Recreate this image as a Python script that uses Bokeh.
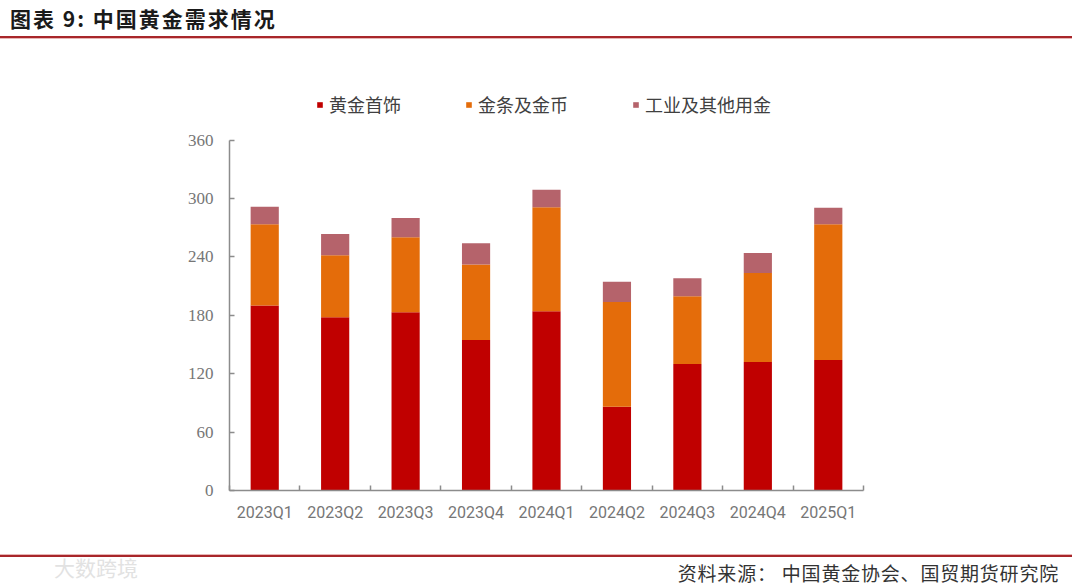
from bokeh.plotting import figure
from bokeh.models import (Range1d, LinearAxis, FixedTicker, ColumnDataSource, Div, Column)
from bokeh.embed import file_html
from bokeh.resources import INLINE

# ---- data ----
quarters = ["2023Q1", "2023Q2", "2023Q3", "2023Q4", "2024Q1", "2024Q2", "2024Q3", "2024Q4", "2025Q1"]
jewelry = [190, 178, 183, 154.5, 184, 86, 130, 132, 134]
bars_coins = [83.5, 63.5, 77, 77.5, 107, 107.5, 69.5, 91.5, 139.5]
industrial = [18, 22, 20, 22, 18, 21, 18.5, 20.5, 17]
series_names = ["黄金首饰", "金条及金币", "工业及其他用金"]
colors = ["#C00000", "#E46C0A", "#B5636B"]
y_ticks = [0, 60, 120, 180, 240, 300, 360]
title_text = "图表 9: 中国黄金需求情况"
source_text = "资料来源：&nbsp;中国黄金协会、国贸期货研究院"
watermark_text = "大数跨境"

n = len(quarters)
centers = [i + 0.5 for i in range(n)]  # slot centres on a 0..n axis
source = ColumnDataSource(data={
    "pos": centers,
    "quarter": quarters,
    series_names[0]: jewelry,
    series_names[1]: bars_coins,
    series_names[2]: industrial,
})

# ---- layout (page pixels) ----
PAGE_W = 1080
TOP_H = 40            # title strip
FIG_H = 505           # figure strip
BOT_H = 41            # source strip
FRAME_L, FRAME_R = 229, 863
FRAME_TOP_PAGE, FRAME_BOT_PAGE = 40, 490
PX_360 = 350.5        # pixels spanned by 0..360
frame_h = FRAME_BOT_PAGE - FRAME_TOP_PAGE
y_end = 360 * frame_h / PX_360

p = figure(width=PAGE_W, height=FIG_H, x_range=Range1d(0, n), y_range=Range1d(0, y_end),
           output_backend="svg", toolbar_location=None,
           x_axis_location=None, y_axis_location=None,
           min_border_left=FRAME_L, min_border_right=PAGE_W - FRAME_R,
           min_border_top=FRAME_TOP_PAGE - TOP_H,
           min_border_bottom=TOP_H + FIG_H - FRAME_BOT_PAGE)
p.outline_line_color = None
p.xgrid.visible = False
p.ygrid.visible = False
p.background_fill_color = "white"
p.border_fill_color = "white"
p.margin = (0, 0, 0, 0)

p.vbar_stack(series_names, x="pos", width=0.4, color=colors, line_color=None,
             source=source, legend_label=series_names)

axis_color = "#8c8c8c"
label_color = "#767676"

# y axis
yaxis = LinearAxis(ticker=FixedTicker(ticks=y_ticks), bounds=(0, 360))
yaxis.axis_line_color = axis_color
yaxis.axis_line_width = 1.5
yaxis.major_tick_line_color = axis_color
yaxis.major_tick_line_width = 1.5
yaxis.major_tick_in = 5
yaxis.major_tick_out = 0
yaxis.minor_tick_line_color = None
yaxis.major_label_text_font = "Liberation Serif"
yaxis.major_label_text_font_size = "17px"
yaxis.major_label_text_color = label_color
yaxis.major_label_standoff = 16
p.add_layout(yaxis, "left")

# x axis: labels at slot centres, small ticks at slot boundaries
xaxis = LinearAxis(ticker=FixedTicker(ticks=centers, minor_ticks=list(range(n + 1))))
xaxis.major_label_overrides = {c: q for c, q in zip(centers, quarters)}
xaxis.axis_line_color = axis_color
xaxis.axis_line_width = 1.5
xaxis.major_tick_line_color = None
xaxis.major_tick_in = 0
xaxis.major_tick_out = 0
xaxis.minor_tick_line_color = axis_color
xaxis.minor_tick_line_width = 1.5
xaxis.minor_tick_in = 5
xaxis.minor_tick_out = 0
xaxis.major_label_text_font = "Roboto"
xaxis.major_label_text_font_size = "16px"
xaxis.major_label_text_color = label_color
xaxis.major_label_standoff = 12
p.add_layout(xaxis, "below")

# legend (inside the upper, empty part of the frame)
lg = p.legend[0]
lg.location = (316 - FRAME_L, FRAME_BOT_PAGE - 117)
lg.orientation = "horizontal"
lg.spacing = 64
lg.glyph_width = 7
lg.glyph_height = 7
lg.label_standoff = 6
lg.padding = 0
lg.margin = 0
lg.border_line_color = None
lg.background_fill_alpha = 0
lg.label_text_font = "Noto Sans CJK SC"
lg.label_text_font_size = "18px"
lg.label_text_color = "#404040"

RED = "#A8262A"

top_div = Div(width=PAGE_W, height=TOP_H, margin=(0, 0, 0, 0), text=f"""
<div style="position:relative;width:{PAGE_W}px;height:{TOP_H}px;overflow:hidden;">
  <div style="position:absolute;left:10px;top:5px;font-family:'Noto Sans CJK SC';font-weight:bold;
              font-size:21px;line-height:26px;color:#1a1a1a;letter-spacing:2px;white-space:nowrap;">{title_text}</div>
  <div style="position:absolute;left:0px;top:36px;width:1072px;height:2px;background:{RED};"></div>
  <div style="position:absolute;left:0px;top:38px;width:1072px;height:1px;background:#E7B5B5;"></div>
</div>""")

bot_div = Div(width=PAGE_W, height=BOT_H, margin=(0, 0, 0, 0), text=f"""
<div style="position:relative;width:{PAGE_W}px;height:{BOT_H}px;overflow:hidden;">
  <div style="position:absolute;left:0px;top:9px;width:1072px;height:1px;background:#E7B5B5;"></div>
  <div style="position:absolute;left:0px;top:10px;width:1072px;height:2px;background:{RED};"></div>
  <div style="position:absolute;left:54px;top:10px;font-family:'Noto Sans CJK SC';font-size:21px;
              line-height:24px;color:#e2e2e2;white-space:nowrap;">{watermark_text}</div>
  <div style="position:absolute;right:21px;top:16px;font-family:'Noto Sans CJK SC';font-size:19px;
              line-height:24px;color:#333333;letter-spacing:0.8px;white-space:nowrap;">{source_text}</div>
</div>""")

layout = Column(children=[top_div, p, bot_div], spacing=0, margin=(0, 0, 0, 0))

open("out.html", "w").write(file_html(layout, INLINE))
